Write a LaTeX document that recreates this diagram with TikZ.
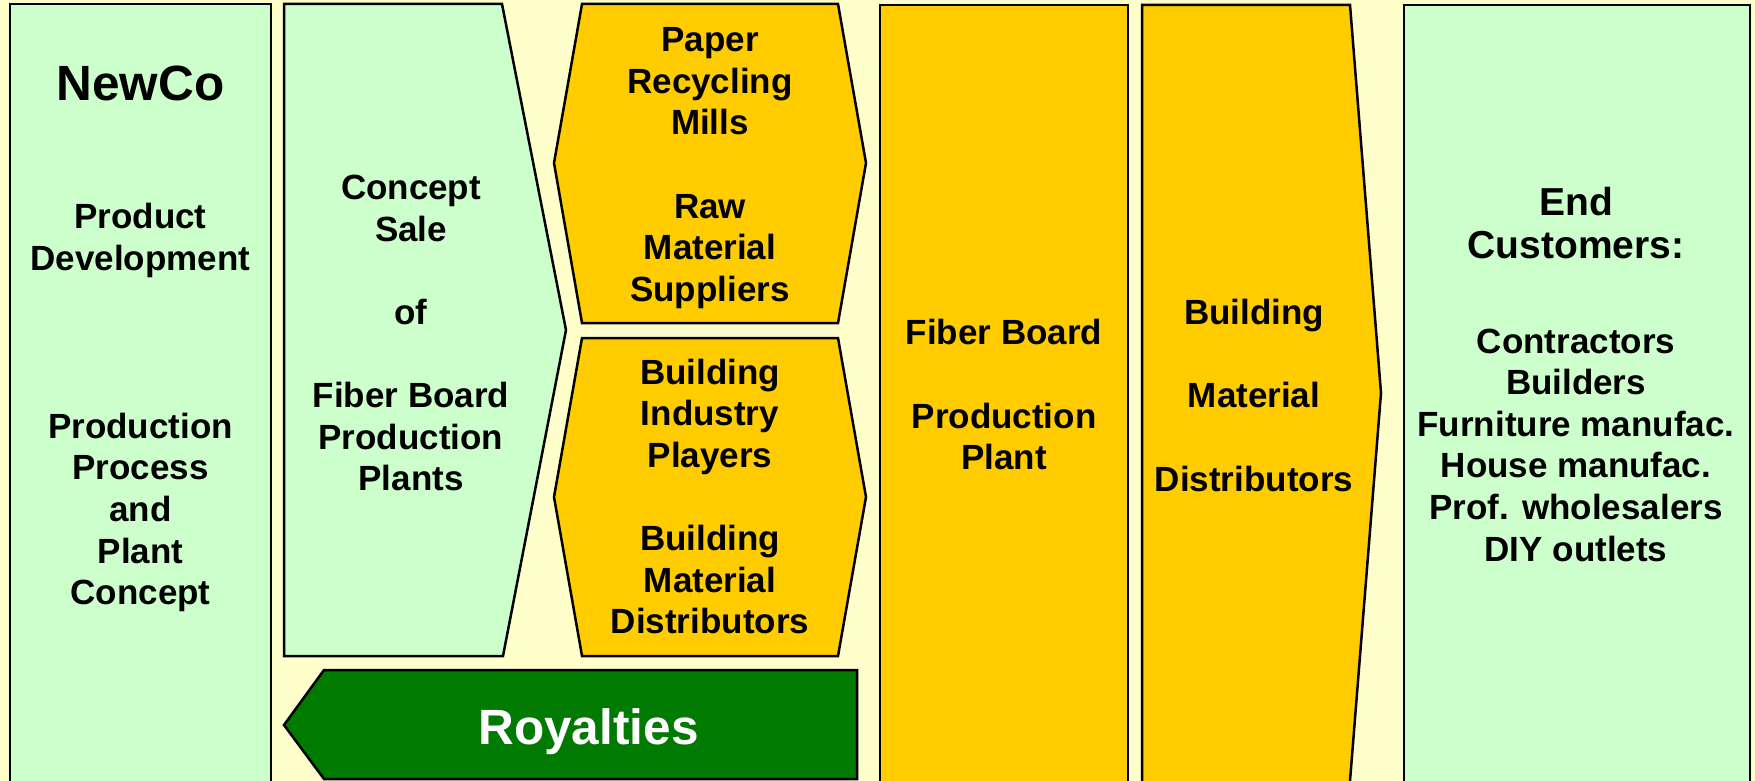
\documentclass[tikz,border=0pt]{standalone}
\usepackage{fontspec}
\setmainfont{Liberation Sans}
\definecolor{bgyellow}{HTML}{FFFFCC}
\definecolor{lgreen}{HTML}{CCFFCC}
\definecolor{gold}{HTML}{FFCC00}
\definecolor{dgreen}{HTML}{007A00}
% struts: height 29, depth 11 (total < baselineskip)
\newcommand{\ls}{\rule[-11pt]{0pt}{40pt}}
\newcommand{\lsb}{\rule[-11pt]{0pt}{42pt}}
\begin{document}
\begin{tikzpicture}[x=1pt,y=-1pt,
  shp/.style={draw=black, line width=2.5pt, line join=miter},
  greenshape/.style={shp, fill=lgreen},
  goldshape/.style={shp, fill=gold},
  royshape/.style={shp, fill=dgreen},
  txt/.style={inner sep=0pt, align=center, text=black, font=\bfseries\fontsize{35}{41.6}\selectfont},
  bigtxt/.style={inner sep=0pt, align=center, font=\bfseries\fontsize{49.5}{56}\selectfont},
  endtxt/.style={inner sep=0pt, align=center, font=\bfseries\fontsize{39}{43}\selectfont}]
\fill[bgyellow] (0,0) rectangle (1755,781);
\useasboundingbox (0,0) rectangle (1755,781);
\clip (0,0) rectangle (1755,781);
% shapes
\draw[greenshape] (10,4) rectangle (271,800);
\draw[greenshape] (284,4) -- (502,4) -- (566,330) -- (503,656) -- (284,656) -- cycle;
\draw[goldshape] (582,4) -- (838,4) -- (866,163) -- (838,323) -- (582,323) -- (554,163) -- cycle;
\draw[goldshape] (582,338) -- (838,338) -- (866,497) -- (838,656) -- (582,656) -- (554,497) -- cycle;
\draw[royshape] (324,670) -- (857,670) -- (857,779) -- (324,779) -- (284,725) -- cycle;
\draw[goldshape] (880,5) rectangle (1128,800);
\draw[goldshape] (1142,5) -- (1350,5) -- (1381,393) -- (1350,781) -- (1350,800) -- (1142,800) -- cycle;
\draw[greenshape] (1404,5) rectangle (1750,800);
% texts
\node[bigtxt, anchor=base] (newco) at (140.5,101) {NewCo};
\node[txt] (pdev) at (140.5,240.3) {\ls Product\\\ls Development};
\node[txt] (proc) at (140.5,512.5) {\ls Production\\\ls Process\\\ls and\\\ls Plant\\\ls Concept};
\node[txt] (concept) at (411,336) {\ls Concept\\\ls Sale\\\ls\\\ls of\\\ls\\\ls Fiber Board\\\ls Production\\\ls Plants};
\node[txt] (paper) at (710,167.5) {\ls Paper\\\ls Recycling\\\ls Mills\\\ls\\\ls Raw\\\ls Material\\\ls Suppliers};
\node[txt] (bip) at (710,500) {\ls Building\\\ls Industry\\\ls Players\\\ls\\\ls Building\\\ls Material\\\ls Distributors};
\node[bigtxt, anchor=base, text=white] (roy) at (588.5,744) {Royalties};
\node[txt] (fbp) at (1004,398.3) {\ls Fiber Board\\\ls\\\ls Production\\\ls Plant};
\node[txt] (bmd) at (1254,398.9) {\ls Building\\\ls\\\ls Material\\\ls\\\ls Distributors};
\node[endtxt] (endc) at (1576,226.5) {\lsb End\\\lsb Customers:};
\node[txt] (list) at (1576,448.1) {\ls Contractors\\\ls Builders\\\ls Furniture manufac.\\\ls House manufac.\\\ls Prof. wholesalers\\\ls DIY outlets};
\end{tikzpicture}
\end{document}
